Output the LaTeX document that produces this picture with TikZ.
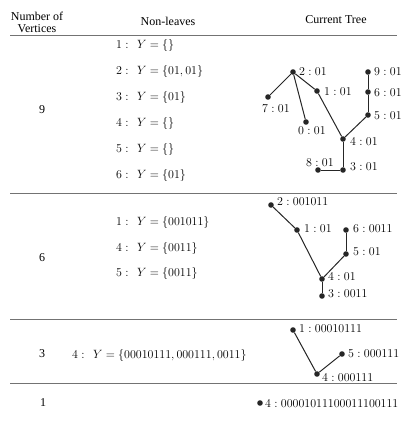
\documentclass[tikz,border=0pt]{standalone}
\usepackage[no-math]{fontspec}
\setmainfont{Liberation Serif}
\begin{document}
\begin{tikzpicture}[x=1pt,y=-1pt,
  vtx/.style={circle,fill=black!85,inner sep=0pt,minimum size=5.6pt},
  lbl/.style={anchor=base west,inner sep=0pt,font=\fontsize{13}{15}\selectfont},
  nl/.style={anchor=base west,inner sep=0pt,font=\fontsize{13}{15}\selectfont},
  hd/.style={inner sep=0pt,font=\fontsize{12}{13}\selectfont},
  tree/.style={draw=black!85,line width=1pt},
  sep/.style={draw=black!55,line width=1pt}]
\useasboundingbox (0,0) rectangle (414,421);
% header
\node[hd,align=center] (h1) at (37,22) {Number of\\[-1pt]Vertices};
\node[hd] (h2) at (168,21) {Non-leaves};
\node[hd] (h3) at (336,20) {Current Tree};
% rules
\coordinate (r1a) at (10,35);  \coordinate (r1b) at (397,35);
\coordinate (r2a) at (10,193); \coordinate (r2b) at (397,193);
\coordinate (r3a) at (10,319); \coordinate (r3b) at (397,319);
\coordinate (r4a) at (10,383); \coordinate (r4b) at (397,383);
\draw[sep] (r1a) -- (r1b);
\draw[sep] (r2a) -- (r2b);
\draw[sep] (r3a) -- (r3b);
\draw[sep] (r4a) -- (r4b);
% first column
\node[hd] (n9) at (42,110) {9};
\node[hd] (n6) at (42,258) {6};
\node[hd] (n3) at (42,354) {3};
\node[hd] (n1) at (43,403) {1};
% non-leaves, 9 vertices
\node[nl] (a1) at (116,48) {$1:\hspace{5pt}Y=\{\}$};
\node[nl] (a2) at (116,74) {$2:\hspace{5pt}Y=\{01,01\}$};
\node[nl] (a3) at (116,100) {$3:\hspace{5pt}Y=\{01\}$};
\node[nl] (a4) at (116,126) {$4:\hspace{5pt}Y=\{\}$};
\node[nl] (a5) at (116,152) {$5:\hspace{5pt}Y=\{\}$};
\node[nl] (a6) at (116,178) {$6:\hspace{5pt}Y=\{01\}$};
% non-leaves, 6 vertices
\node[nl] (b1) at (116,225) {$1:\hspace{5pt}Y=\{001011\}$};
\node[nl] (b4) at (116,251) {$4:\hspace{5pt}Y=\{0011\}$};
\node[nl] (b5) at (116,276) {$5:\hspace{5pt}Y=\{0011\}$};
% non-leaves, 3 vertices
\node[nl] (c4) at (72,358) {$4:\hspace{5pt}Y=\{00010111,000111,0011\}$};
% tree 9
\node[vtx] (t2) at (293,72) {};
\node[vtx] (t7) at (268,97) {};
\node[vtx] (t0) at (306,122) {};
\node[vtx] (t1) at (317,91) {};
\node[vtx] (t4) at (343,139) {};
\node[vtx] (t3) at (343,170) {};
\node[vtx] (t8) at (318,170) {};
\node[vtx] (t9) at (368,72) {};
\node[vtx] (t6) at (368,92) {};
\node[vtx] (t5) at (368,115) {};
\draw[tree] (t2) -- (t7);
\draw[tree] (t2) -- (t0);
\draw[tree] (t2) -- (t1);
\draw[tree] (t1) -- (t4);
\draw[tree] (t4) -- (t5);
\draw[tree] (t5) -- (t6);
\draw[tree] (t6) -- (t9);
\draw[tree] (t4) -- (t3);
\draw[tree] (t3) -- (t8);
\node[lbl] (l2) at (299,75) {$2:01$};
\node[lbl] (l9) at (374,75) {$9:01$};
\node[lbl] (l1) at (324,95) {$1:01$};
\node[lbl] (l6) at (374,96) {$6:01$};
\node[lbl] (l7) at (262,112) {$7:01$};
\node[lbl] (l0) at (298,134) {$0:01$};
\node[lbl] (l5) at (374,119) {$5:01$};
\node[lbl] (l4) at (350,145) {$4:01$};
\node[lbl] (l3) at (350,170) {$3:01$};
\node[lbl] (l8) at (306,166) {$8:01$};
% tree 6
\node[vtx] (u2) at (271,205) {};
\node[vtx] (u1) at (297,230) {};
\node[vtx] (u6) at (346,230) {};
\node[vtx] (u5) at (346,254) {};
\node[vtx] (u4) at (322,279) {};
\node[vtx] (u3) at (322,296) {};
\draw[tree] (u2) -- (u1);
\draw[tree] (u1) -- (u4);
\draw[tree] (u4) -- (u5);
\draw[tree] (u5) -- (u6);
\draw[tree] (u4) -- (u3);
\node[lbl] (m2) at (277,205) {$2:001011$};
\node[lbl] (m1) at (304,232) {$1:01$};
\node[lbl] (m6) at (353,232) {$6:0011$};
\node[lbl] (m5) at (353,255) {$5:01$};
\node[lbl] (m4) at (328,280) {$4:01$};
\node[lbl] (m3) at (328,297) {$3:0011$};
% tree 3
\node[vtx] (v1) at (293,330) {};
\node[vtx] (v5) at (342,354) {};
\node[vtx] (v4) at (317,374) {};
\draw[tree] (v1) -- (v4);
\draw[tree] (v4) -- (v5);
\node[lbl] (w1) at (299,332) {$1:00010111$};
\node[lbl] (w5) at (348,357) {$5:000111$};
\node[lbl] (w4) at (322,381) {$4:000111$};
% tree 1
\node[vtx] (x4) at (260,403) {};
\node[lbl] (y4) at (265,407) {$4:00001011100011100111$};
\end{tikzpicture}
\end{document}
